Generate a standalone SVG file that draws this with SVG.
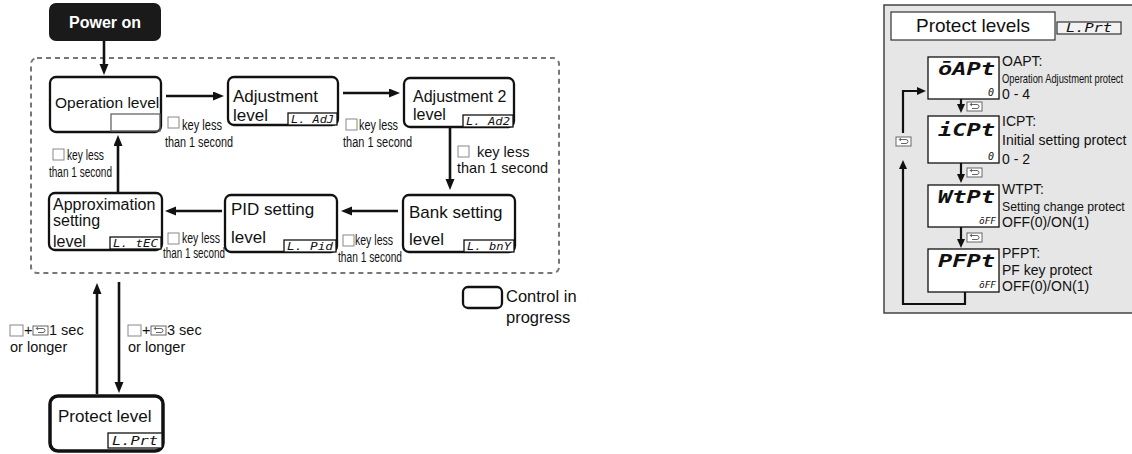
<svg xmlns="http://www.w3.org/2000/svg" width="1132" height="454" viewBox="0 0 1132 454">
<style>
.t{font-family:"Liberation Sans",Arial,sans-serif;fill:#111}
.n{fill:#fff;stroke:#111;stroke-width:2.3}
.d{fill:#fff;stroke:#111;stroke-width:1.3}
.seg{font-family:"DejaVu Sans Mono",monospace;font-style:italic;fill:#111}
.segb{font-family:"DejaVu Sans Mono",monospace;font-weight:bold;font-style:italic;fill:#111}
.ln{stroke:#111;stroke-width:2.6;fill:none}
.ln2{stroke:#111;stroke-width:2.2;fill:none}
.cb{fill:#fff;stroke:#888;stroke-width:1}
.ki{fill:#fff;stroke:#666;stroke-width:1}
.kp{fill:none;stroke:#666;stroke-width:1}
</style>
<defs>
<marker id="ah" markerUnits="userSpaceOnUse" markerWidth="12" markerHeight="10" refX="1" refY="4.5" orient="auto">
<path d="M0,0 L11,4.5 L0,9 z" fill="#111"/>
</marker>
<marker id="ah2" markerUnits="userSpaceOnUse" markerWidth="10" markerHeight="9" refX="1" refY="4" orient="auto">
<path d="M0,0 L9,4 L0,8 z" fill="#111"/>
</marker>
<g id="key">
<rect class="ki" x="0" y="0" width="15" height="9"/>
<path class="kp" d="M3,2.5 H10 A2,2 0 0 1 10,6.5 H5"/>
<path d="M2.5,2.5 L5,0.8 L5,4.2 z" fill="#666"/>
</g>
</defs>

<!-- dashed region -->
<rect x="31" y="58" width="528" height="215" rx="6" fill="none" stroke="#777" stroke-width="2" stroke-dasharray="5 4"/>

<g id="connectors">
<line class="ln" x1="104" y1="41" x2="104" y2="65" marker-end="url(#ah)"/>
<line class="ln" x1="166" y1="96" x2="214" y2="96" marker-end="url(#ah)"/>
<line class="ln" x1="343" y1="93" x2="390" y2="93" marker-end="url(#ah)"/>
<line class="ln" x1="450" y1="128" x2="450" y2="180" marker-end="url(#ah)"/>
<line class="ln" x1="398" y1="211" x2="351" y2="211" marker-end="url(#ah)"/>
<line class="ln" x1="222" y1="211" x2="175" y2="211" marker-end="url(#ah)"/>
<line class="ln" x1="118" y1="193" x2="118" y2="145" marker-end="url(#ah)"/>
<line class="ln" x1="97" y1="394" x2="97" y2="293" marker-end="url(#ah)"/>
<line class="ln" x1="119" y1="282" x2="119" y2="383" marker-end="url(#ah)"/>
</g>

<g id="edge-labels">
<rect class="cb" x="346" y="119" width="11" height="11"/>
<text class="t" x="359" y="130" font-size="14" textLength="39" lengthAdjust="spacingAndGlyphs">key less</text>
<text class="t" x="343" y="147" font-size="14" textLength="69" lengthAdjust="spacingAndGlyphs">than 1 second</text>

<rect class="cb" x="168" y="117" width="11" height="11"/>
<text class="t" x="182" y="130" font-size="14" textLength="40" lengthAdjust="spacingAndGlyphs">key less</text>
<text class="t" x="165" y="147" font-size="14" textLength="68" lengthAdjust="spacingAndGlyphs">than 1 second</text>

<rect class="cb" x="458" y="146" width="11" height="11"/>
<text class="t" x="477" y="157" font-size="14.5">key less</text>
<text class="t" x="457" y="173" font-size="14.5">than 1 second</text>

<rect class="cb" x="343" y="235" width="11" height="11"/>
<text class="t" x="355" y="245" font-size="14" textLength="38" lengthAdjust="spacingAndGlyphs">key less</text>
<text class="t" x="338" y="262" font-size="14" textLength="64" lengthAdjust="spacingAndGlyphs">than 1 second</text>

<rect class="cb" x="168" y="233" width="11" height="11"/>
<text class="t" x="182" y="243" font-size="14" textLength="38" lengthAdjust="spacingAndGlyphs">key less</text>
<text class="t" x="163" y="258" font-size="14" textLength="62" lengthAdjust="spacingAndGlyphs">than 1 second</text>

<rect class="cb" x="53" y="149" width="11" height="11"/>
<text class="t" x="67" y="160" font-size="14" textLength="37" lengthAdjust="spacingAndGlyphs">key less</text>
<text class="t" x="49" y="177" font-size="14" textLength="63" lengthAdjust="spacingAndGlyphs">than 1 second</text>

<rect class="cb" x="10" y="325" width="13" height="11"/>
<text class="t" x="24" y="335" font-size="14.5">+</text>
<use href="#key" x="33" y="326"/>
<text class="t" x="49" y="335" font-size="14.5">1 sec</text>
<text class="t" x="10" y="352" font-size="14.5">or longer</text>

<rect class="cb" x="128" y="325" width="13" height="11"/>
<text class="t" x="142" y="335" font-size="14.5">+</text>
<use href="#key" x="151" y="326"/>
<text class="t" x="167" y="335" font-size="14.5">3 sec</text>
<text class="t" x="128" y="352" font-size="14.5">or longer</text>
</g>

<g id="power-on">
<rect x="49" y="3" width="112" height="38" rx="7" fill="#1a1a1a"/>
<text class="t" x="105" y="28" font-size="16" font-weight="bold" text-anchor="middle" style="fill:#fff">Power on</text>
</g>

<g id="operation-level">
<rect class="n" x="50" y="77" width="111" height="55" rx="6"/>
<rect x="111" y="114" width="49" height="17" fill="none" stroke="#666" stroke-width="1.3"/>
<text class="t" x="55" y="108" font-size="15.5">Operation level</text>
</g>

<g id="adjustment-level">
<rect class="n" x="228" y="77" width="110" height="48" rx="6"/>
<text class="t" x="233" y="102" font-size="17">Adjustment</text>
<text class="t" x="233" y="121" font-size="17">level</text>
<rect class="d" x="288" y="113" width="49" height="12"/>
<text class="seg" x="291" y="123" font-size="11" textLength="43" lengthAdjust="spacingAndGlyphs">L. AdJ</text>
</g>

<g id="adjustment2-level">
<rect class="n" x="404" y="78" width="110" height="49" rx="6"/>
<text class="t" x="413" y="102" font-size="16">Adjustment 2</text>
<text class="t" x="413" y="120" font-size="16">level</text>
<rect class="d" x="463" y="115" width="50" height="12"/>
<text class="seg" x="466" y="125" font-size="11" textLength="44" lengthAdjust="spacingAndGlyphs">L. Ad2</text>
</g>

<g id="bank-setting-level">
<rect class="n" x="403" y="195" width="112" height="57" rx="6"/>
<text class="t" x="409" y="218" font-size="17">Bank setting</text>
<text class="t" x="409" y="245" font-size="17">level</text>
<rect class="d" x="464" y="240" width="50" height="12"/>
<text class="seg" x="467" y="250" font-size="11" textLength="44" lengthAdjust="spacingAndGlyphs">L. bnY</text>
</g>

<g id="pid-setting-level">
<rect class="n" x="225" y="195" width="112" height="57" rx="6"/>
<text class="t" x="231" y="215" font-size="17">PID setting</text>
<text class="t" x="231" y="243" font-size="17">level</text>
<rect class="d" x="284" y="240" width="52" height="12"/>
<text class="seg" x="287" y="250" font-size="11" textLength="46" lengthAdjust="spacingAndGlyphs">L. Pid</text>
</g>

<g id="approximation-setting-level">
<rect class="n" x="49" y="193" width="113" height="57" rx="6"/>
<text class="t" x="53" y="210" font-size="16">Approximation</text>
<text class="t" x="53" y="226" font-size="16">setting</text>
<text class="t" x="53" y="247" font-size="16">level</text>
<rect class="d" x="110" y="237" width="51" height="12"/>
<text class="seg" x="113" y="247" font-size="11" textLength="45" lengthAdjust="spacingAndGlyphs">L. tEC</text>
</g>

<g id="protect-level">
<rect x="50" y="396" width="113" height="55" rx="8" fill="#fff" stroke="#111" stroke-width="3.5"/>
<text class="t" x="58" y="422" font-size="17">Protect level</text>
<rect class="d" x="108" y="433" width="54" height="15"/>
<text class="seg" x="112" y="445" font-size="13" textLength="46" lengthAdjust="spacingAndGlyphs">L.Prt</text>
</g>

<g id="legend">
<rect x="463" y="287" width="39" height="21" rx="5" fill="#fff" stroke="#111" stroke-width="2.3"/>
<text class="t" x="506" y="302" font-size="16.5">Control in</text>
<text class="t" x="506" y="323" font-size="16.5">progress</text>
</g>

<!-- right panel -->
<g id="protect-panel">
<rect x="884" y="5" width="262" height="308" fill="#e6e6e6" stroke="#444" stroke-width="1.5"/>
<rect x="891" y="12" width="164" height="28" fill="#fff" stroke="#333" stroke-width="1.2"/>
<text class="t" x="973" y="32" font-size="19" text-anchor="middle">Protect levels</text>
<rect x="1057" y="22" width="64" height="12" fill="#f2f2f2" stroke="#333" stroke-width="1.2"/>
<text class="seg" x="1066" y="32" font-size="12" textLength="46" lengthAdjust="spacingAndGlyphs">L.Prt</text>
</g>

<g id="panel-connectors">
<line class="ln2" x1="961" y1="99" x2="961" y2="105" marker-end="url(#ah2)"/>
<line class="ln2" x1="961" y1="163" x2="961" y2="175" marker-end="url(#ah2)"/>
<line class="ln2" x1="961" y1="227" x2="961" y2="240" marker-end="url(#ah2)"/>
<use href="#key" x="967" y="102"/>
<use href="#key" x="967" y="168"/>
<use href="#key" x="967" y="233"/>
<polyline class="ln2" points="965,292 965,304 903,304 903,168" marker-end="url(#ah2)"/>
<use href="#key" x="896" y="137"/>
<polyline class="ln2" points="903,133 903,91 918,91" marker-end="url(#ah2)"/>
</g>

<g id="param-oapt">
<rect class="d" x="928" y="57" width="71" height="42"/>
<text class="segb" x="938" y="75" font-size="17" textLength="57" lengthAdjust="spacingAndGlyphs">ōAPt</text>
<text class="seg" x="988" y="96" font-size="10">0</text>
<text class="t" x="1002" y="66" font-size="14">OAPT:</text>
<text class="t" transform="translate(1002,83) scale(0.78,1)" font-size="12">Operation Adjustment protect</text>
<text class="t" x="1002" y="99" font-size="14">0 - 4</text>
</g>

<g id="param-icpt">
<rect class="d" x="928" y="116" width="71" height="47"/>
<text class="segb" x="938" y="136" font-size="17" textLength="57" lengthAdjust="spacingAndGlyphs">iCPt</text>
<text class="seg" x="988" y="160" font-size="10">0</text>
<text class="t" x="1002" y="126" font-size="14">ICPT:</text>
<text class="t" x="1002" y="145" font-size="14">Initial setting protect</text>
<text class="t" x="1002" y="164" font-size="14">0 - 2</text>
</g>

<g id="param-wtpt">
<rect class="d" x="928" y="185" width="71" height="42"/>
<text class="segb" x="938" y="203" font-size="17" textLength="57" lengthAdjust="spacingAndGlyphs">WtPt</text>
<text class="seg" x="979" y="224" font-size="9" textLength="17" lengthAdjust="spacingAndGlyphs">ōFF</text>
<text class="t" x="1002" y="194" font-size="14">WTPT:</text>
<text class="t" transform="translate(1002,211) scale(0.91,1)" font-size="13.5">Setting change protect</text>
<text class="t" x="1002" y="227" font-size="14">OFF(0)/ON(1)</text>
</g>

<g id="param-pfpt">
<rect class="d" x="928" y="249" width="71" height="43"/>
<text class="segb" x="938" y="267" font-size="17" textLength="57" lengthAdjust="spacingAndGlyphs">PFPt</text>
<text class="seg" x="979" y="288" font-size="9" textLength="17" lengthAdjust="spacingAndGlyphs">ōFF</text>
<text class="t" x="1002" y="258" font-size="14">PFPT:</text>
<text class="t" x="1002" y="275" font-size="14">PF key protect</text>
<text class="t" x="1002" y="291" font-size="14">OFF(0)/ON(1)</text>
</g>
</svg>
